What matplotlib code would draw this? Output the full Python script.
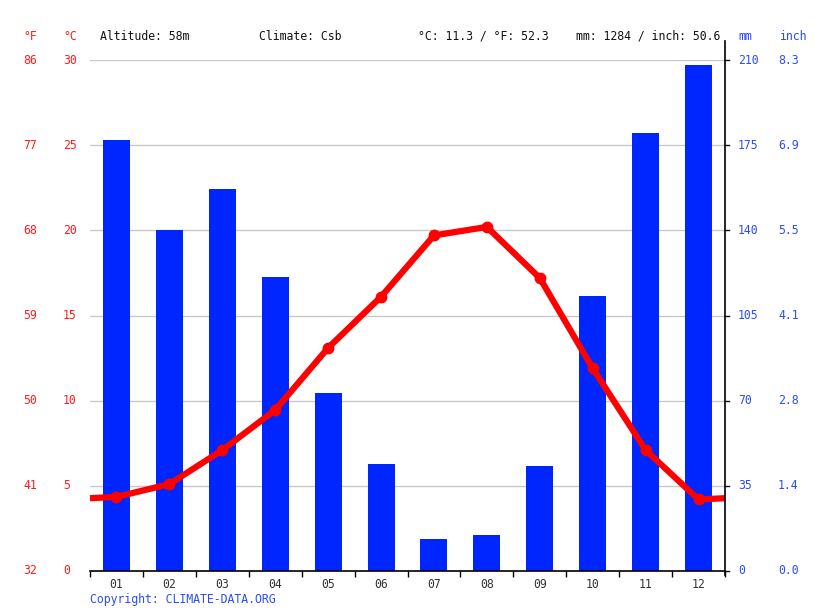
import matplotlib
matplotlib.use("Agg")
import matplotlib.pyplot as plt
from matplotlib.lines import Line2D
import numpy as np

months = ["01", "02", "03", "04", "05", "06", "07", "08", "09", "10", "11", "12"]
precip_mm = [177, 140, 157, 121, 73, 44, 13, 15, 43, 113, 180, 208]
temp_c = [4.35, 5.1, 7.1, 9.45, 13.1, 16.1, 19.7, 20.2, 17.2, 11.9, 7.1, 4.2]
c_ticks = [0, 5, 10, 15, 20, 25, 30]
f_labels = ["32", "41", "50", "59", "68", "77", "86"]
mm_ticks = [0, 35, 70, 105, 140, 175, 210]
inch_labels = ["0.0", "1.4", "2.8", "4.1", "5.5", "6.9", "8.3"]
header_alt = "Altitude: 58m"
header_clim = "Climate: Csb"
header_temp = "°C: 11.3 / °F: 52.3"
header_prec = "mm: 1284 / inch: 50.6"

W, H = 815, 611
fig = plt.figure(figsize=(W / 100, H / 100), dpi=100)
FONT = "DejaVu Sans Mono"
FS = 8.3
RED = "#ff1a1a"
BLUE = "#2a4bff"
BAR = "#0026ff"

x0, x1, ytop, ybot = 90, 725, 60, 571
ax = fig.add_axes([x0 / W, 1 - ybot / H, (x1 - x0) / W, (ybot - ytop) / H])
ax2 = ax.twinx()

x = np.arange(len(months))
ax2.bar(x, precip_mm, width=0.51, color=BAR, zorder=2)
ax2.set_ylim(0, 210)
ax.set_ylim(0, 30)
ax.set_xlim(-0.5, len(months) - 0.5)
ax2.set_xlim(-0.5, len(months) - 0.5)

# temperature line on top
ax.set_zorder(ax2.get_zorder() + 1)
ax.patch.set_visible(False)
edge = (temp_c[0] + temp_c[-1]) / 2
xl = np.concatenate([[-0.5], x, [len(months) - 0.5]])
yl = np.concatenate([[edge], temp_c, [edge]])
ax.plot(xl, yl, color="#ff0000", lw=4.5, solid_capstyle="butt", zorder=3, clip_on=False)
ax.plot(x, temp_c, "o", color="#ff0000", ms=7.5, zorder=4)

# grid
for c in c_ticks[1:]:
    ax2.axhline(c * 7, color="#c8c8c8", lw=1, zorder=1)

for a in (ax, ax2):
    for s in a.spines.values():
        s.set_visible(False)
    a.set_yticks([])
ax.spines["bottom"].set_visible(True)
ax.spines["bottom"].set_color("black")
ax.spines["bottom"].set_linewidth(1.2)
ax.set_xticks(np.arange(-0.5, len(months), 1.0))
ax.set_xticklabels([])
ax.set_xticks(x, minor=True)
ax.set_xticklabels(months, minor=True, fontfamily=FONT, fontsize=FS, color="#333333")
ax.tick_params(axis="x", which="major", length=4, width=1, direction="out", color="black")
ax.tick_params(axis="x", which="minor", length=0, pad=5)
ax2.tick_params(axis="x", length=0)

# right spine extended
fig.add_artist(Line2D([x1 / W, x1 / W], [1 - 575 / H, 1 - 41 / H], color="black", lw=1.2))
for m in mm_ticks:
    yy = 1 - (ybot - (ybot - ytop) * m / 210) / H
    fig.add_artist(Line2D([x1 / W, (x1 + 4) / W], [yy, yy], color="black", lw=1))

# axis labels
for c, fl in zip(c_ticks, f_labels):
    yy = 1 - (ybot - (ybot - ytop) * c / 30) / H
    fig.text(63 / W, yy, str(c), color=RED, fontfamily=FONT, fontsize=FS, ha="left", va="center")
    fig.text(23 / W, yy, fl, color=RED, fontfamily=FONT, fontsize=FS, ha="left", va="center")
for m, il in zip(mm_ticks, inch_labels):
    yy = 1 - (ybot - (ybot - ytop) * m / 210) / H
    fig.text(738 / W, yy, str(m), color=BLUE, fontfamily=FONT, fontsize=FS, ha="left", va="center")
    fig.text(778 / W, yy, il, color=BLUE, fontfamily=FONT, fontsize=FS, ha="left", va="center")

yh = 1 - 36 / H
fig.text(23 / W, yh, "°F", color=RED, fontfamily=FONT, fontsize=FS, ha="left", va="center")
fig.text(63 / W, yh, "°C", color=RED, fontfamily=FONT, fontsize=FS, ha="left", va="center")
fig.text(738 / W, yh, "mm", color=BLUE, fontfamily=FONT, fontsize=FS, ha="left", va="center")
fig.text(779 / W, yh, "inch", color=BLUE, fontfamily=FONT, fontsize=FS, ha="left", va="center")
fig.text(100 / W, yh, header_alt, color="#111111", fontfamily=FONT, fontsize=FS, ha="left", va="center")
fig.text(259 / W, yh, header_clim, color="#111111", fontfamily=FONT, fontsize=FS, ha="left", va="center")
fig.text(418 / W, yh, header_temp, color="#111111", fontfamily=FONT, fontsize=FS, ha="left", va="center")
fig.text(576 / W, yh, header_prec, color="#111111", fontfamily=FONT, fontsize=FS, ha="left", va="center")
fig.text(90 / W, 1 - 599 / H, "Copyright: CLIMATE-DATA.ORG", color=BLUE, fontfamily=FONT,
         fontsize=FS, ha="left", va="center")

fig.savefig("out.png", dpi=100)
